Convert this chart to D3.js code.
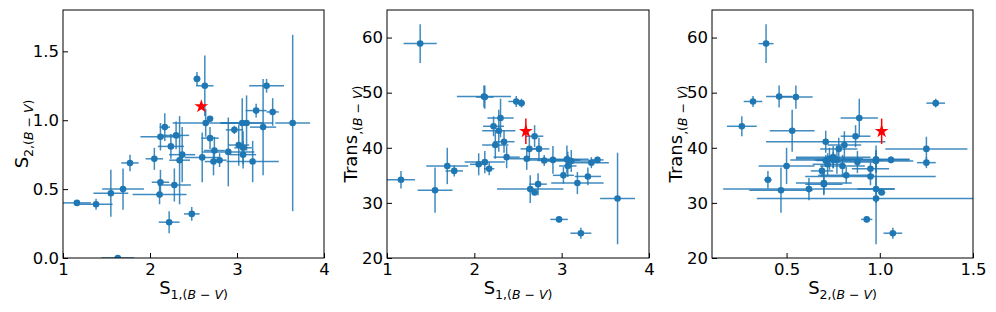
<!DOCTYPE html>
<html lang="en">
<head>
  <meta charset="UTF-8">
  <title>S1, S2 and Trans (B-V)</title>
  <style>
    body {
      margin: 0;
      background: #fff;
      font-family: "DejaVu Sans", sans-serif;
    }
  </style>
</head>
<body>
  <svg class="chart"></svg>
  <script src="https://cdn.jsdelivr.net/npm/d3@7/dist/d3.min.js"></script>
  <script>
    var w = 996;
    var h = 312;

    // one entry per object (null = not plotted in that panel)
    var s1 = [1.16, 1.38, 1.55, 1.69, 1.77, 1.63, 2.05, 2.11, 2.12, 2.22,
              2.12, 2.17, 2.24, 2.28, 2.30, 2.34, 2.37, 2.48, 2.54, 2.63,
              2.60, 2.64, 2.69, 2.69, 2.73, 2.74, 2.80, 2.90, 2.97, 3.02,
              3.06, 3.07, 3.07, 3.11, 3.18, 3.22, 3.30, 3.34, 3.41, 3.64, null];
    var s1Err = [0.16, 0.19, 0.20, 0.24, 0.10, 0.19, 0.10, 0.31, 0.10, 0.12,
                 0.23, 0.06, 0.15, 0.19, 0.15, 0.12, 0.15, 0.09, 0.04, 0.10,
                 0.20, 0.38, 0.03, 0.10, 0.10, 0.12, 0.08, 0.30, 0.10, 0.12,
                 0.25, 0.10, 0.15, 0.30, 0.30, 0.12, 0.15, 0.20, 0.07, 0.20, 0];
    var s2 = [0.40, 0.39, 0.47, 0.50, 0.69, 0.00, 0.72, 0.46, 0.55, 0.26,
              0.88, 0.95, 0.81, 0.53, 0.89, 0.71, 0.75, 0.32, 1.30, 1.25,
              0.73, 0.98, 1.01, 0.87, 0.70, 0.78, 0.71, 0.77, 0.93, 0.82,
              0.98, 0.80, 0.75, 0.98, 0.70, 1.07, 0.95, 1.25, 1.06, 0.98, 0.62];
    var s2Err = [0.02, 0.04, 0.17, 0.15, 0.06, 0.02, 0.08, 0.07, 0.09, 0.08,
                 0.10, 0.10, 0.09, 0.12, 0.10, 0.32, 0.20, 0.05, 0.05, 0.22,
                 0.18, 0.10, 0.02, 0.08, 0.10, 0.10, 0.05, 0.25, 0.03, 0.15,
                 0.18, 0.12, 0.10, 0.20, 0.15, 0.05, 0.35, 0.05, 0.10, 0.64, 0.46];
    var trans = [34.2, 58.9, 32.3, 36.7, 35.8, null, 37.0, 49.3, 49.2, 43.9,
                 37.4, 36.2, 40.5, 43.1, 45.4, 41.1, 38.3, 48.4, 48.1, 39.8,
                 38.0, 32.5, 31.9, 42.1, 33.4, 39.8, 37.7, 37.8, 27.0, 35.0,
                 37.9, 36.7, 37.8, 37.6, 33.6, 24.5, 34.8, 37.3, 37.8, 30.8, 32.5];
    var transErr = [1.6, 3.5, 4.1, 3.3, 1.0, 0, 2.0, 2.0, 2.1, 1.8,
                    2.0, 1.2, 2.5, 3.8, 3.5, 2.0, 2.0, 1.0, 0.8, 2.2,
                    2.0, 2.5, 0.5, 2.0, 2.0, 2.0, 1.0, 2.5, 0.5, 1.5,
                    2.5, 2.0, 1.5, 2.0, 2.0, 1.0, 1.6, 1.0, 0.6, 8.3, 2.0];

    // the red star (reference object)
    var starS1 = 2.59;
    var starS2 = [1.10, 1.01];   // as shown in panel 1 and panel 3
    var starTrans = 43.0;
    var starTransErr = 2.3;

    var s1Ticks = [1, 2, 3, 4];
    var s2Ticks = [0, 0.5, 1.0, 1.5];
    var s2XTicks = [0.5, 1.0, 1.5];
    var transTicks = [20, 30, 40, 50, 60];

    var blue = "#1f77b4";

    var svg = d3.select(".chart").attr("width", w).attr("height", h);

    function fmt1(d) { return d3.format(".1f")(d); }
    function fmtInt(d) { return d3.format("d")(d); }

    // label like S_{1,(B-V)}
    function mathLabel(text, main, sub) {
      var fs = "12.5px";
      text.append("tspan").text(main);
      text.append("tspan").attr("font-size", fs).attr("dy", 5).text(sub + "(");
      text.append("tspan").attr("font-size", fs).attr("font-style", "italic").text("B");
      text.append("tspan").attr("font-size", fs).text(" \u2212 ");
      text.append("tspan").attr("font-size", fs).attr("font-style", "italic").text("V");
      text.append("tspan").attr("font-size", fs).text(")");
    }

    var panels = [
      {left: 63, right: 324, xs: s1, xe: s1Err, ys: s2, ye: s2Err,
       xDom: [1, 4], yDom: [0, 1.8], xTicks: s1Ticks, yTicks: s2Ticks,
       xFmt: fmtInt, yFmt: fmt1, xMain: "S", xSub: "1,", yMain: "S", ySub: "2,",
       ylabX: 28, star: {x: starS1, y: starS2[0], ye: 0}},
      {left: 387, right: 649, xs: s1, xe: s1Err, ys: trans, ye: transErr,
       xDom: [1, 4], yDom: [20, 65], xTicks: s1Ticks, yTicks: transTicks,
       xFmt: fmtInt, yFmt: fmtInt, xMain: "S", xSub: "1,", yMain: "Trans", ySub: ",",
       ylabX: 357, star: {x: starS1, y: starTrans, ye: starTransErr}},
      {left: 712, right: 973, xs: s2, xe: s2Err, ys: trans, ye: transErr,
       xDom: [0.1, 1.5], yDom: [20, 65], xTicks: s2XTicks, yTicks: transTicks,
       xFmt: fmt1, yFmt: fmtInt, xMain: "S", xSub: "2,", yMain: "Trans", ySub: ",",
       ylabX: 682, star: {x: starS2[1], y: starTrans, ye: starTransErr}}
    ];

    var plotTop = 10, plotBottom = 258;

    panels.forEach(function(p, pi) {
      var x = d3.scaleLinear().domain(p.xDom).range([p.left, p.right]);
      var y = d3.scaleLinear().domain(p.yDom).range([plotBottom, plotTop]);

      var clipId = "clip" + pi;
      svg.append("clipPath").attr("id", clipId)
        .append("rect")
        .attr("x", p.left).attr("y", plotTop)
        .attr("width", p.right - p.left).attr("height", plotBottom - plotTop);

      var pts = p.xs.map(function(d, i) {
        return {x: d, xe: p.xe[i], y: p.ys[i], ye: p.ye[i]};
      }).filter(function(d) { return d.x !== null && d.y !== null; });

      var g = svg.append("g").attr("clip-path", "url(#" + clipId + ")");

      // error bars
      g.selectAll("line.xerr")
        .data(pts).enter().append("line")
        .attr("x1", d => x(d.x - d.xe))
        .attr("x2", d => x(d.x + d.xe))
        .attr("y1", d => y(d.y))
        .attr("y2", d => y(d.y))
        .attr("stroke", blue).attr("stroke-width", 1.5).attr("stroke-opacity", 0.85);
      g.selectAll("line.yerr")
        .data(pts).enter().append("line")
        .attr("x1", d => x(d.x))
        .attr("x2", d => x(d.x))
        .attr("y1", d => y(d.y - d.ye))
        .attr("y2", d => y(d.y + d.ye))
        .attr("stroke", blue).attr("stroke-width", 1.5).attr("stroke-opacity", 0.85);

      // markers
      g.selectAll("circle")
        .data(pts).enter().append("circle")
        .attr("cx", d => x(d.x))
        .attr("cy", d => y(d.y))
        .attr("r", 3.3)
        .attr("fill", blue);

      // red star
      if (p.star.ye > 0) {
        g.append("line")
          .attr("x1", x(p.star.x)).attr("x2", x(p.star.x))
          .attr("y1", y(p.star.y - p.star.ye)).attr("y2", y(p.star.y + p.star.ye))
          .attr("stroke", "red").attr("stroke-width", 1.5);
      }
      g.append("path")
        .attr("d", d3.symbol(d3.symbolStar).size(60)())
        .attr("transform", "translate(" + x(p.star.x) + "," + y(p.star.y) + ")")
        .attr("fill", "red");

      // axes
      var xAxis = d3.axisBottom(x).tickValues(p.xTicks).tickFormat(p.xFmt)
        .tickSizeInner(-5).tickSizeOuter(0).tickPadding(5);
      var yAxis = d3.axisLeft(y).tickValues(p.yTicks).tickFormat(p.yFmt)
        .tickSizeInner(-5).tickSizeOuter(0).tickPadding(4);

      var gx = svg.append("g").attr("transform", "translate(0," + plotBottom + ")").call(xAxis);
      var gy = svg.append("g").attr("transform", "translate(" + p.left + ",0)").call(yAxis);
      [gx, gy].forEach(function(a) {
        a.select(".domain").remove();
        a.selectAll(".tick line").attr("stroke", "#000").attr("stroke-width", 1);
        a.selectAll(".tick text")
          .attr("fill", "#000")
          .attr("font-family", "DejaVu Sans, sans-serif")
          .attr("font-size", "16.5px");
      });

      // frame
      svg.append("rect")
        .attr("x", p.left).attr("y", plotTop)
        .attr("width", p.right - p.left).attr("height", plotBottom - plotTop)
        .attr("fill", "none").attr("stroke", "#000").attr("stroke-width", 1);

      // axis labels
      var xl = svg.append("text")
        .attr("x", (p.left + p.right) / 2).attr("y", 294)
        .attr("text-anchor", "middle")
        .attr("font-size", "18px").attr("fill", "#000");
      mathLabel(xl, p.xMain, p.xSub);

      var yl = svg.append("text")
        .attr("transform", "translate(" + p.ylabX + "," + ((plotTop + plotBottom) / 2) + ") rotate(-90)")
        .attr("text-anchor", "middle")
        .attr("font-size", "18px").attr("fill", "#000");
      mathLabel(yl, p.yMain, p.ySub);
    });
  </script>
</body>
</html>
